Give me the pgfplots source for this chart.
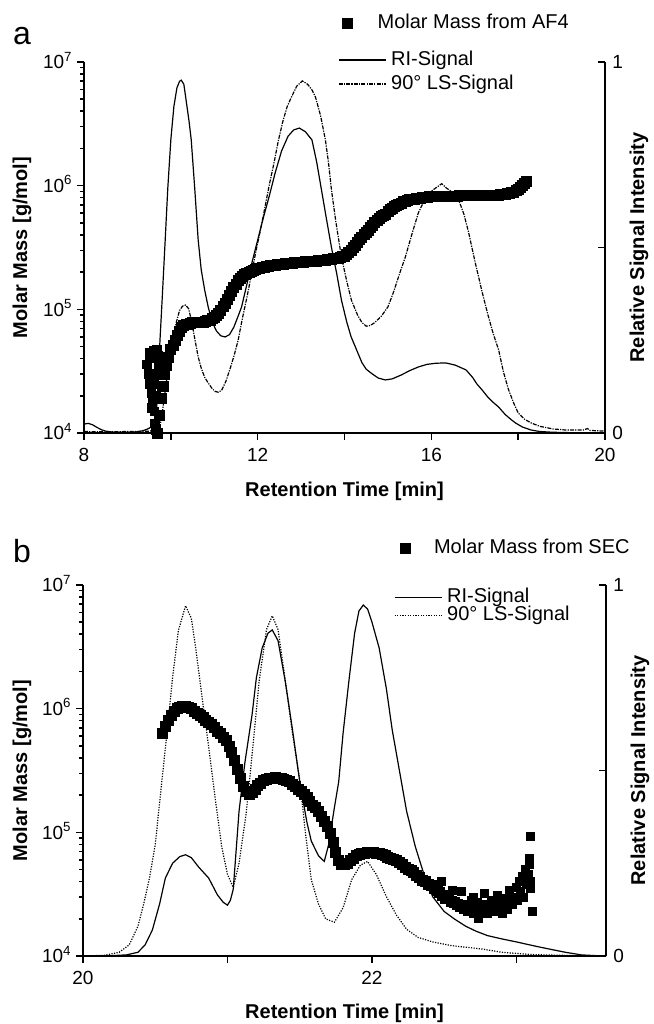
\documentclass[border=0pt]{standalone}
\usepackage{fontspec}
\setmainfont{Liberation Sans}
\usepackage{pgfplots}
\pgfplotsset{compat=1.18}
\begin{document}
\begin{tikzpicture}
\useasboundingbox (0pt,0pt) rectangle (327pt,-512pt);

% ---------------- panel a ----------------
\node[font=\fontsize{16}{19}\selectfont, anchor=center] at (11pt,-18pt) {a};

\begin{axis}[at={(42pt,-216.5pt)}, anchor=south west,
  scale only axis, width=260.5pt, height=185.5pt, clip=false,
  ymode=log, ymin=1e4, ymax=1e7,
  xmin=8, xmax=20,
  axis y line*=left, axis x line*=bottom,
  axis line style={line width=0.9pt},
  tick style={black, line width=0.8pt},
  major tick length=3.5pt, minor tick length=2pt,
  tick align=outside,
  label style={font=\bfseries\fontsize{10}{12}\selectfont},
  tick label style={font=\fontsize{9.5}{11}\selectfont},
  ytick={1e4,1e5,1e6,1e7},
  yticklabels={10\textsuperscript{4},10\textsuperscript{5},10\textsuperscript{6},10\textsuperscript{7}},
  minor ytick={2e4,3e4,4e4,5e4,6e4,7e4,8e4,9e4,2e5,3e5,4e5,5e5,6e5,7e5,8e5,9e5,2e6,3e6,4e6,5e6,6e6,7e6,8e6,9e6},
  yticklabel style={anchor=base east, inner sep=0pt, xshift=-2pt, yshift=-3.4pt},
  xtick={8,12,16,20}, xticklabels={8,12,16,20},
  extra x ticks={10,14,18}, extra x tick labels={},
  xticklabel style={anchor=center, inner sep=0pt, yshift=-7.5pt},
  xlabel={Retention Time [min]},
  xlabel style={at={(axis description cs:0.5,0)}, anchor=center, yshift=-29pt},
  ylabel={Molar Mass [g/mol]},
  ylabel style={at={(axis description cs:0,0.5)}, anchor=center, rotate=0, yshift=31pt},
  legend style={at={(0.4964,1.105)}, anchor=west, draw=none, fill=none,
    inner sep=0pt, outer sep=0pt, font=\fontsize{10}{12}\selectfont,
    nodes={inner sep=0pt},
    /tikz/every odd column/.append style={column sep=12.5pt}},
  legend image code/.code={\draw[#1] plot coordinates {(0pt,0pt)};},
]
\addplot[only marks, mark=square*, mark size=2.5pt, black] coordinates {
(9.70,1.0e4)(9.74,1.4e4)(9.78,1.9e4)(9.82,2.4e4)(9.86,3.0e4)(9.90,3.5e4)(9.95,4.1e4)(10.00,4.7e4)(10.05,5.1e4)(10.10,5.6e4)(10.15,6.2e4)(10.20,6.6e4)(10.25,7.1e4)(10.30,7.4e4)(10.35,7.6e4)(10.40,7.6e4)(10.45,7.7e4)(10.50,7.8e4)(10.55,7.8e4)(10.60,7.8e4)(10.65,7.8e4)(10.70,7.9e4)(10.75,7.9e4)(10.80,8.0e4)(10.85,8.1e4)(10.90,8.2e4)(10.95,8.4e4)(11.00,8.6e4)(11.05,8.9e4)(11.10,9.3e4)(11.15,9.8e4)(11.20,1.05e5)(11.25,1.12e5)(11.30,1.2e5)(11.35,1.3e5)(11.40,1.4e5)(11.45,1.5e5)(11.50,1.6e5)(11.55,1.7e5)(11.60,1.78e5)(11.65,1.85e5)(11.70,1.91e5)(11.75,1.96e5)(11.80,2.0e5)(11.85,2.04e5)(11.90,2.08e5)(11.95,2.11e5)(12.00,2.14e5)(12.05,2.16e5)(12.1,2.18e5)(12.15,2.2e5)(12.2,2.22e5)(12.25,2.23e5)(12.3,2.25e5)(12.35,2.27e5)(12.4,2.28e5)(12.45,2.3e5)(12.5,2.31e5)(12.55,2.32e5)(12.6,2.33e5)(12.65,2.34e5)(12.7,2.35e5)(12.75,2.36e5)(12.8,2.37e5)(12.85,2.38e5)(12.9,2.39e5)(12.95,2.4e5)(13.0,2.40e5)(13.05,2.41e5)(13.1,2.42e5)(13.15,2.43e5)(13.2,2.43e5)(13.25,2.44e5)(13.3,2.45e5)(13.35,2.46e5)(13.4,2.47e5)(13.45,2.48e5)(13.5,2.49e5)(13.55,2.5e5)(13.6,2.52e5)(13.65,2.53e5)(13.7,2.55e5)(13.75,2.56e5)(13.8,2.58e5)(13.85,2.6e5)(13.9,2.63e5)(13.95,2.66e5)(14.0,2.70e5)(14.05,2.78e5)(14.1,2.88e5)(14.15,3.0e5)(14.2,3.15e5)(14.25,3.3e5)(14.3,3.47e5)(14.35,3.65e5)(14.4,3.8e5)(14.45,4.0e5)(14.5,4.17e5)(14.55,4.37e5)(14.6,4.57e5)(14.65,4.79e5)(14.7,5.0e5)(14.75,5.2e5)(14.8,5.4e5)(14.85,5.6e5)(14.9,5.75e5)(14.95,5.9e5)(15.0,6.17e5)(15.05,6.4e5)(15.1,6.6e5)(15.15,6.8e5)(15.2,6.9e5)(15.25,7.1e5)(15.3,7.24e5)(15.35,7.4e5)(15.4,7.5e5)(15.45,7.6e5)(15.5,7.7e5)(15.55,7.75e5)(15.6,7.8e5)(15.65,7.85e5)(15.7,7.9e5)(15.75,7.95e5)(15.8,8.0e5)(15.85,8.05e5)(15.9,8.1e5)(15.95,8.12e5)(16.0,8.15e5)(16.05,8.17e5)(16.1,8.2e5)(16.15,8.2e5)(16.2,8.2e5)(16.25,8.22e5)(16.3,8.25e5)(16.35,8.25e5)(16.4,8.25e5)(16.45,8.25e5)(16.5,8.25e5)(16.55,8.25e5)(16.6,8.25e5)(16.65,8.28e5)(16.7,8.3e5)(16.75,8.3e5)(16.8,8.3e5)(16.85,8.3e5)(16.9,8.3e5)(16.95,8.3e5)(17.0,8.3e5)(17.05,8.3e5)(17.1,8.3e5)(17.15,8.3e5)(17.2,8.3e5)(17.25,8.3e5)(17.3,8.3e5)(17.35,8.32e5)(17.4,8.35e5)(17.45,8.37e5)(17.5,8.4e5)(17.55,8.42e5)(17.6,8.45e5)(17.65,8.5e5)(17.7,8.55e5)(17.75,8.62e5)(17.8,8.7e5)(17.85,8.8e5)(17.9,8.9e5)(17.95,9.1e5)(18.0,9.4e5)(18.05,9.7e5)(18.1,1.0e6)(18.15,1.04e6)(18.2,1.08e6)
};
\addlegendentry{Molar Mass from AF4}
\addplot[only marks, mark=square*, mark size=2.1pt, black, forget plot] coordinates {
(9.45,3.6e4)(9.48,3.0e4)(9.50,4.0e4)(9.52,2.5e4)(9.55,2.1e4)(9.57,1.8e4)(9.58,4.2e4)(9.60,4.6e4)(9.62,1.5e4)(9.63,1.2e4)(9.65,1.1e4)(9.66,1.05e4)(9.68,4.7e4)(9.70,4.2e4)(9.72,3.5e4)(9.60,2.5e4)(9.55,1.6e4)(9.50,4.5e4)(9.64,3.0e4)(9.67,2.0e4)
};
\end{axis}

\begin{axis}[at={(42pt,-216.5pt)}, anchor=south west,
  scale only axis, width=260.5pt, height=185.5pt, clip=false,
  xmin=8, xmax=20, ymin=0, ymax=1,
  axis y line*=right, axis x line=none,
  axis line style={line width=0.9pt},
  tick style={black, line width=0.8pt},
  major tick length=3.5pt,
  tick align=inside,
  label style={font=\bfseries\fontsize{10}{12}\selectfont},
  tick label style={font=\fontsize{9.5}{11}\selectfont},
  ytick={0,1}, yticklabels={0,1},
  extra y ticks={0.5}, extra y tick labels={},
  yticklabel style={anchor=west, inner sep=0pt, xshift=3.5pt},
  ylabel={Relative Signal Intensity},
  ylabel style={at={(axis description cs:1,0.5)}, anchor=center, rotate=0, yshift=-17pt},
  legend style={at={(0.4875,0.973)}, anchor=west, draw=none, fill=none,
    inner sep=0pt, outer sep=0pt, font=\fontsize{10}{12}\selectfont,
    legend cell align=left,
    nodes={inner sep=0pt, text height=8.6pt, text depth=3.4pt},
    /tikz/every odd column/.append style={column sep=2.5pt}},
  legend image code/.code={\draw[#1] (0pt,0pt) -- (23.5pt,0pt);},
]
\addplot[black, line width=0.6pt] coordinates {
(8.0,0.024)(8.1,0.026)(8.2,0.022)(8.3,0.015)(8.4,0.009)(8.5,0.005)(8.7,0.002)(9.0,0.002)(9.2,0.003)(9.35,0.006)(9.45,0.01)(9.55,0.016)(9.62,0.022)(9.66,0.04)(9.7,0.12)(9.75,0.25)(9.8,0.36)(9.87,0.52)(9.93,0.66)(10.0,0.79)(10.07,0.88)(10.14,0.93)(10.2,0.948)(10.24,0.951)(10.3,0.94)(10.36,0.89)(10.42,0.84)(10.47,0.79)(10.55,0.66)(10.63,0.52)(10.7,0.44)(10.78,0.385)(10.86,0.34)(10.95,0.30)(11.05,0.275)(11.15,0.262)(11.25,0.259)(11.35,0.265)(11.45,0.285)(11.55,0.315)(11.63,0.34)(11.75,0.40)(11.87,0.46)(12.0,0.52)(12.13,0.58)(12.27,0.64)(12.4,0.70)(12.55,0.76)(12.7,0.80)(12.83,0.817)(12.96,0.822)(13.1,0.812)(13.25,0.79)(13.36,0.73)(13.47,0.655)(13.58,0.58)(13.7,0.50)(13.82,0.43)(13.93,0.358)(14.05,0.30)(14.15,0.26)(14.25,0.232)(14.4,0.19)(14.5,0.172)(14.63,0.16)(14.78,0.148)(14.94,0.143)(15.1,0.146)(15.3,0.156)(15.5,0.168)(15.7,0.178)(15.9,0.185)(16.1,0.188)(16.33,0.189)(16.55,0.183)(16.8,0.17)(16.95,0.15)(17.05,0.132)(17.17,0.116)(17.3,0.097)(17.42,0.083)(17.55,0.07)(17.7,0.05)(17.85,0.035)(17.94,0.027)(18.1,0.016)(18.3,0.008)(18.5,0.004)(18.8,0.002)(19.2,0.001)(20,0.001)
};
\addlegendentry{RI-Signal}
\addplot[black, line width=0.6pt, dash pattern=on 2pt off 0.6pt on 0.6pt off 0.6pt] coordinates {
(8.0,0.004)(8.5,0.003)(9.0,0.004)(9.3,0.004)(9.5,0.005)(9.65,0.008)(9.75,0.016)(9.82,0.07)(9.9,0.14)(9.98,0.205)(10.05,0.255)(10.13,0.30)(10.2,0.33)(10.27,0.342)(10.34,0.345)(10.41,0.335)(10.48,0.30)(10.55,0.255)(10.63,0.205)(10.7,0.175)(10.78,0.15)(10.86,0.135)(10.95,0.12)(11.02,0.112)(11.09,0.11)(11.17,0.115)(11.27,0.14)(11.37,0.175)(11.46,0.21)(11.55,0.25)(11.65,0.31)(11.76,0.37)(11.86,0.43)(11.96,0.49)(12.07,0.55)(12.17,0.61)(12.27,0.67)(12.38,0.73)(12.48,0.79)(12.58,0.84)(12.68,0.88)(12.78,0.906)(12.9,0.935)(13.03,0.949)(13.15,0.94)(13.25,0.925)(13.33,0.906)(13.45,0.855)(13.56,0.79)(13.63,0.73)(13.7,0.655)(13.8,0.57)(13.93,0.474)(14.05,0.41)(14.16,0.358)(14.3,0.318)(14.4,0.298)(14.5,0.288)(14.6,0.29)(14.7,0.298)(14.85,0.315)(15.0,0.34)(15.13,0.38)(15.27,0.43)(15.4,0.474)(15.55,0.535)(15.7,0.593)(15.85,0.63)(16.0,0.652)(16.12,0.662)(16.24,0.672)(16.35,0.66)(16.5,0.648)(16.63,0.628)(16.75,0.59)(16.86,0.54)(17.0,0.465)(17.16,0.385)(17.3,0.32)(17.42,0.27)(17.55,0.224)(17.66,0.165)(17.78,0.116)(17.9,0.08)(18.0,0.054)(18.15,0.037)(18.3,0.027)(18.5,0.018)(18.8,0.011)(19.1,0.008)(19.5,0.008)(19.6,0.012)(19.65,0.007)(20,0.005)
};
\addlegendentry{90° LS-Signal}
\end{axis}

% ---------------- panel b ----------------
\node[font=\fontsize{16}{19}\selectfont, anchor=center] at (11pt,-275.5pt) {b};

\begin{axis}[at={(41.5pt,-478pt)}, anchor=south west,
  scale only axis, width=261.5pt, height=185.5pt, clip=false,
  ymode=log, ymin=1e4, ymax=1e7,
  xmin=20, xmax=23.62,
  axis y line*=left, axis x line*=bottom,
  axis line style={line width=0.9pt},
  tick style={black, line width=0.8pt},
  major tick length=3.5pt, minor tick length=2pt,
  tick align=outside,
  label style={font=\bfseries\fontsize{10}{12}\selectfont},
  tick label style={font=\fontsize{9.5}{11}\selectfont},
  ytick={1e4,1e5,1e6,1e7},
  yticklabels={10\textsuperscript{4},10\textsuperscript{5},10\textsuperscript{6},10\textsuperscript{7}},
  minor ytick={2e4,3e4,4e4,5e4,6e4,7e4,8e4,9e4,2e5,3e5,4e5,5e5,6e5,7e5,8e5,9e5,2e6,3e6,4e6,5e6,6e6,7e6,8e6,9e6},
  yticklabel style={anchor=base east, inner sep=0pt, xshift=-2pt, yshift=-3.4pt},
  xtick={20,22}, xticklabels={20,22},
  extra x ticks={21,23}, extra x tick labels={},
  xticklabel style={anchor=center, inner sep=0pt, yshift=-7.5pt},
  xlabel={Retention Time [min]},
  xlabel style={at={(axis description cs:0.5,0)}, anchor=center, yshift=-28.5pt},
  ylabel={Molar Mass [g/mol]},
  ylabel style={at={(axis description cs:0,0.5)}, anchor=center, rotate=0, yshift=30.5pt},
  legend style={at={(0.607,1.0997)}, anchor=west, draw=none, fill=none,
    inner sep=0pt, outer sep=0pt, font=\fontsize{10}{12}\selectfont,
    nodes={inner sep=0pt},
    /tikz/every odd column/.append style={column sep=11.8pt}},
  legend image code/.code={\draw[#1] plot coordinates {(0pt,0pt)};},
]
\addplot[only marks, mark=square*, mark size=2.5pt, black] coordinates {
(20.55,6.3e5)(20.57,7.2e5)(20.59,8.1e5)(20.61,8.9e5)(20.63,9.5e5)(20.65,1.0e6)(20.67,1.02e6)(20.69,1.05e6)(20.71,1.05e6)(20.73,1.02e6)(20.75,1.0e6)(20.77,9.5e5)(20.79,9.2e5)(20.81,8.9e5)(20.83,8.5e5)(20.85,8.1e5)(20.87,7.8e5)(20.89,7.4e5)(20.91,7.1e5)(20.93,6.6e5)(20.95,6.3e5)(20.97,5.9e5)(20.99,5.5e5)(21.01,5.0e5)(21.03,4.4e5)(21.05,3.8e5)(21.07,3.2e5)(21.09,2.75e5)(21.11,2.34e5)(21.13,2.14e5)(21.15,2.04e5)(21.17,2.09e5)(21.19,2.24e5)(21.21,2.4e5)(21.23,2.5e5)(21.25,2.63e5)(21.27,2.69e5)(21.29,2.75e5)(21.31,2.75e5)(21.33,2.79e5)(21.35,2.75e5)(21.37,2.72e5)(21.39,2.69e5)(21.41,2.63e5)(21.43,2.57e5)(21.45,2.45e5)(21.47,2.34e5)(21.49,2.24e5)(21.51,2.14e5)(21.53,2.04e5)(21.55,1.91e5)(21.57,1.78e5)(21.59,1.66e5)(21.61,1.58e5)(21.63,1.48e5)(21.65,1.35e5)(21.67,1.23e5)(21.69,1.12e5)(21.71,9.8e4)(21.73,8.3e4)(21.75,6.9e4)(21.77,5.9e4)(21.79,5.5e4)(21.81,5.5e4)(21.83,5.6e4)(21.85,5.9e4)(21.87,6.2e4)(21.89,6.5e4)(21.91,6.6e4)(21.93,6.8e4)(21.95,6.8e4)(21.97,6.9e4)(21.99,6.9e4)(22.01,6.9e4)(22.03,6.8e4)(22.05,6.8e4)(22.07,6.6e4)(22.09,6.5e4)(22.11,6.3e4)(22.13,6.2e4)(22.15,6.0e4)(22.17,5.9e4)(22.19,5.75e4)(22.21,5.5e4)(22.23,5.25e4)(22.25,5.0e4)(22.27,4.9e4)(22.29,4.7e4)(22.31,4.5e4)(22.33,4.3e4)(22.35,4.1e4)(22.37,4.0e4)(22.39,3.8e4)(22.41,3.7e4)(22.43,3.55e4)(22.45,3.4e4)(22.47,3.25e4)(22.49,3.1e4)(22.51,2.95e4)(22.53,2.9e4)(22.55,2.75e4)(22.57,2.7e4)(22.59,2.6e4)(22.61,2.5e4)
};
\addlegendentry{Molar Mass from SEC}
\addplot[only marks, mark=square*, mark size=2.0pt, black, forget plot] coordinates {
(22.48,4.0e4)(22.56,3.4e4)(22.62,3.3e4)(22.70,3.0e4)
(22.63,2.4e4)(22.65,2.6e4)(22.66,2.3e4)(22.68,2.5e4)(22.69,2.8e4)(22.70,2.2e4)(22.72,2.4e4)(22.73,2.7e4)(22.74,2.0e4)(22.76,2.3e4)(22.77,2.6e4)(22.78,3.2e4)(22.80,2.2e4)(22.81,2.5e4)(22.83,2.8e4)(22.84,2.3e4)(22.86,2.6e4)(22.87,3.1e4)(22.88,2.4e4)(22.90,2.2e4)(22.91,2.7e4)(22.93,2.9e4)(22.94,2.4e4)(22.95,3.4e4)(22.97,2.6e4)(22.98,3.0e4)(23.00,3.6e4)(23.01,2.8e4)(23.02,4.0e4)(23.03,3.3e4)(23.04,4.4e4)(23.05,3.0e4)(23.06,5.0e4)(23.07,3.8e4)(23.08,4.6e4)(23.09,5.5e4)(23.10,4.0e4)(23.10,3.5e4)(23.11,2.3e4)(23.09,6.2e4)(23.10,9.2e4)
};
\end{axis}

\begin{axis}[at={(41.5pt,-478pt)}, anchor=south west,
  scale only axis, width=261.5pt, height=185.5pt, clip=false,
  xmin=20, xmax=23.62, ymin=0, ymax=1,
  axis y line*=right, axis x line=none,
  axis line style={line width=0.9pt},
  tick style={black, line width=0.8pt},
  major tick length=3.5pt,
  tick align=inside,
  label style={font=\bfseries\fontsize{10}{12}\selectfont},
  tick label style={font=\fontsize{9.5}{11}\selectfont},
  ytick={0,1}, yticklabels={0,1},
  extra y ticks={0.5}, extra y tick labels={},
  yticklabel style={anchor=west, inner sep=0pt, xshift=3.5pt},
  ylabel={Relative Signal Intensity},
  ylabel style={at={(axis description cs:1,0.5)}, anchor=center, rotate=0, yshift=-17pt},
  legend style={at={(0.5946,0.943)}, anchor=west, draw=none, fill=none,
    inner sep=0pt, outer sep=0pt, font=\fontsize{10}{12}\selectfont,
    legend cell align=left,
    nodes={inner sep=0pt, text height=7pt, text depth=2pt},
    /tikz/every odd column/.append style={column sep=2.5pt}},
  legend image code/.code={\draw[#1] (0pt,0pt) -- (23.5pt,0pt);},
]
\addplot[black, line width=0.6pt] coordinates {
(20.0,0)(20.2,0.001)(20.3,0.003)(20.38,0.01)(20.43,0.03)(20.48,0.07)(20.53,0.14)(20.57,0.21)(20.62,0.25)(20.67,0.268)(20.71,0.273)(20.75,0.265)(20.8,0.24)(20.87,0.21)(20.93,0.165)(20.97,0.145)(21.0,0.137)(21.02,0.15)(21.04,0.18)(21.08,0.39)(21.12,0.52)(21.17,0.65)(21.2,0.75)(21.24,0.83)(21.28,0.87)(21.31,0.879)(21.35,0.85)(21.4,0.74)(21.45,0.61)(21.5,0.47)(21.55,0.36)(21.58,0.31)(21.63,0.27)(21.67,0.255)(21.7,0.3)(21.74,0.4)(21.77,0.47)(21.8,0.6)(21.84,0.74)(21.88,0.87)(21.91,0.93)(21.94,0.946)(21.97,0.935)(22.0,0.9)(22.05,0.83)(22.1,0.72)(22.14,0.61)(22.19,0.5)(22.24,0.39)(22.3,0.295)(22.36,0.22)(22.42,0.16)(22.5,0.12)(22.57,0.1)(22.65,0.08)(22.72,0.067)(22.8,0.055)(22.9,0.046)(23.0,0.038)(23.08,0.031)(23.15,0.025)(23.25,0.017)(23.34,0.01)(23.45,0.003)(23.55,0.001)(23.62,0)
};
\addlegendentry{RI-Signal}
\addplot[black, line width=0.6pt, dash pattern=on 0.6pt off 0.7pt] coordinates {
(20.0,0)(20.15,0.002)(20.25,0.01)(20.32,0.03)(20.38,0.08)(20.42,0.14)(20.46,0.21)(20.5,0.3)(20.54,0.45)(20.57,0.56)(20.62,0.75)(20.66,0.877)(20.71,0.944)(20.75,0.91)(20.78,0.83)(20.82,0.71)(20.87,0.563)(20.92,0.41)(20.96,0.295)(21.0,0.22)(21.04,0.185)(21.08,0.25)(21.13,0.386)(21.18,0.58)(21.22,0.743)(21.27,0.88)(21.31,0.917)(21.35,0.88)(21.4,0.743)(21.45,0.6)(21.5,0.475)(21.54,0.33)(21.58,0.206)(21.63,0.14)(21.68,0.1)(21.74,0.091)(21.8,0.13)(21.86,0.206)(21.92,0.245)(21.97,0.255)(22.03,0.22)(22.1,0.16)(22.17,0.11)(22.24,0.072)(22.32,0.05)(22.42,0.038)(22.55,0.028)(22.76,0.019)(22.9,0.01)(23.1,0.004)(23.4,0.001)(23.62,0)
};
\addlegendentry{90° LS-Signal}
\end{axis}
\end{tikzpicture}
\end{document}
